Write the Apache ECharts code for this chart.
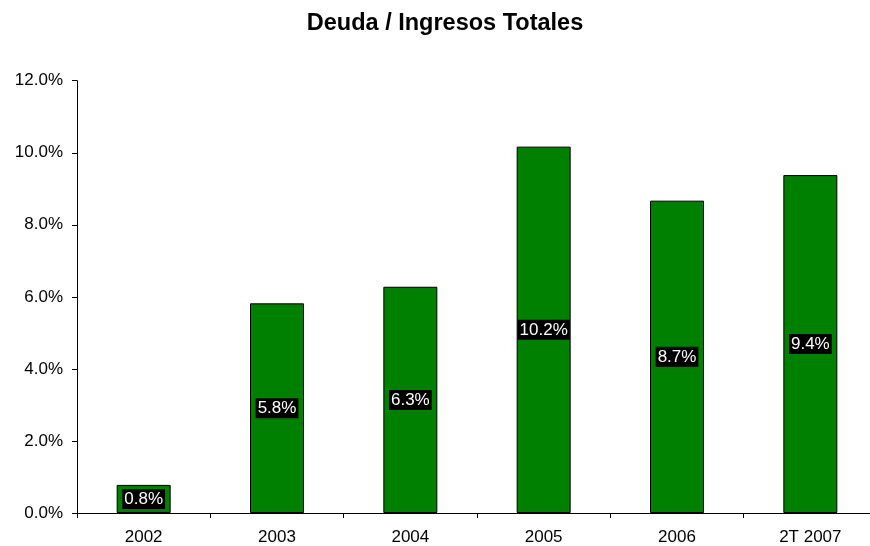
<!DOCTYPE html>
<html>
<head>
<meta charset="utf-8">
<script src="https://cdn.jsdelivr.net/npm/echarts@6/dist/echarts.min.js"></script>
<style>
  html, body { margin: 0; padding: 0; background: #fff; overflow: hidden; }
  #main { width: 880px; height: 546px; }
</style>
</head>
<body>
<div id="main"></div>
<script>
// datos del grafico
var categories = ['2002', '2003', '2004', '2005', '2006', '2T 2007'];
var ratios = [0.78, 5.82, 6.28, 10.17, 8.67, 9.38];
var yTicks = [0, 2, 4, 6, 8, 10, 12];

var chart = echarts.init(document.getElementById('main'), null, { renderer: 'canvas' });

var option = {
  backgroundColor: '#ffffff',
  animation: false,
  title: {
    text: 'Deuda / Ingresos Totales',
    left: 440,
    textAlign: 'center',
    top: 7,
    textStyle: {
      fontFamily: 'Liberation Sans, Arial, sans-serif',
      fontWeight: 'bold',
      fontSize: 23.5,
      color: '#000'
    }
  },
  grid: {
    left: 77,
    top: 80.7,
    width: 800,
    height: 432.6,
    containLabel: false
  },
  xAxis: {
    type: 'category',
    data: categories,
    axisLine: { lineStyle: { color: '#000', width: 1 } },
    axisTick: { show: true, length: 5, alignWithLabel: false, lineStyle: { color: '#000' } },
    axisLabel: {
      margin: 16,
      fontFamily: 'Liberation Sans, Arial, sans-serif',
      fontSize: 17,
      color: '#000'
    }
  },
  yAxis: {
    type: 'value',
    min: yTicks[0],
    max: yTicks[yTicks.length - 1],
    interval: 2,
    splitLine: { show: false },
    axisLine: { show: true, lineStyle: { color: '#000', width: 1 } },
    axisTick: { show: true, length: 5, lineStyle: { color: '#000' } },
    axisLabel: {
      margin: 14,
      fontFamily: 'Liberation Sans, Arial, sans-serif',
      fontSize: 17,
      color: '#000',
      formatter: function (v) { return v.toFixed(1) + '%'; }
    }
  },
  series: [{
    type: 'bar',
    data: ratios,
    barWidth: 54,
    itemStyle: {
      color: '#008000',
      borderColor: '#000',
      borderWidth: 1
    },
    label: {
      show: true,
      position: 'inside',
      formatter: function (p) { return p.value.toFixed(1) + '%'; },
      fontFamily: 'Liberation Sans, Arial, sans-serif',
      fontSize: 17,
      color: '#fff',
      backgroundColor: '#000',
      padding: [2, 2, 1, 2]
    }
  }]
};

chart.setOption(option);
</script>
</body>
</html>
